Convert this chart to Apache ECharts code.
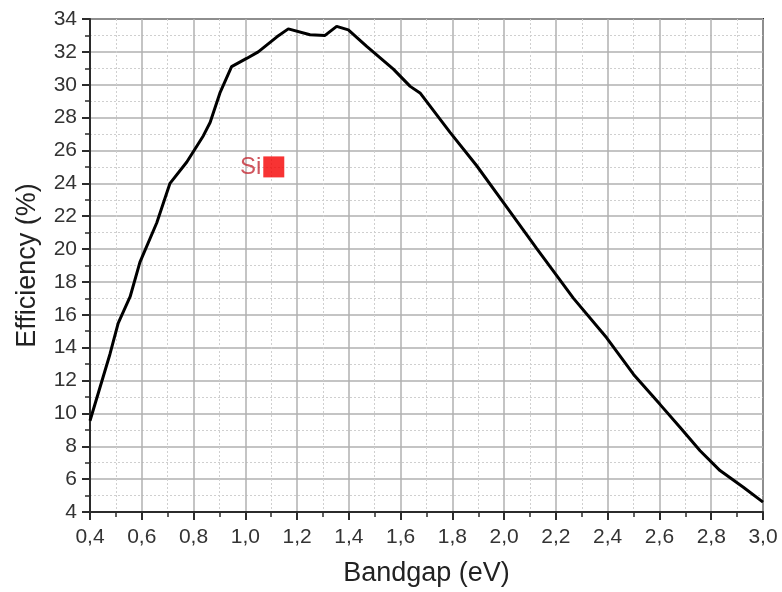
<!DOCTYPE html>
<html>
<head>
<meta charset="utf-8">
<script src="https://cdn.jsdelivr.net/npm/echarts@6/dist/echarts.min.js"></script>
<style>
  html, body { margin: 0; padding: 0; background: #fff; }
  #chart { width: 782px; height: 592px; }
</style>
</head>
<body>
<div id="chart"></div>
<script>
// Detailed-balance efficiency versus bandgap
const bandgap = [0.40, 0.477, 0.509, 0.555, 0.593, 0.658, 0.709, 0.774, 0.838, 0.864, 0.902, 0.947,
  1.005, 1.05, 1.121, 1.166, 1.25, 1.308, 1.353, 1.398, 1.469, 1.572, 1.637, 1.675, 1.791, 1.894,
  2.01, 2.126, 2.268, 2.396, 2.50, 2.602, 2.68, 2.757, 2.834, 2.924, 3.0];
const efficiency = [9.55, 13.6, 15.5, 17.1, 19.2, 21.6, 24.0, 25.3, 26.9, 27.7, 29.5, 31.1,
  31.6, 32.0, 32.9, 33.4, 33.04, 33.0, 33.55, 33.34, 32.33, 30.95, 29.9, 29.5, 27.1, 25.07,
  22.55, 20.03, 17.0, 14.6, 12.37, 10.55, 9.14, 7.73, 6.52, 5.51, 4.6];

// Silicon reference point
const siLabel = 'Si';
const siBandgap = 1.11;
const siEfficiency = 25.0;

const xTicks = { min: 0.4, max: 3.0, step: 0.2 };
const yTicks = { min: 4, max: 34, step: 2 };

const chart = echarts.init(document.getElementById('chart'));
const font = 'Liberation Sans, Arial, sans-serif';

const axisCommon = {
  axisLine: { show: true, lineStyle: { color: '#2b2b2b', width: 2 } },
  axisTick: { show: true, inside: false, length: 8, lineStyle: { color: '#2b2b2b', width: 2 } },
  minorTick: { show: true, splitNumber: 2, length: 5, lineStyle: { color: '#2b2b2b', width: 1.5 } },
  splitLine: { show: true, lineStyle: { color: '#b0b0b0', width: 1.5 } },
  minorSplitLine: { show: true, lineStyle: { color: '#cfcfcf', width: 1, type: [2, 2] } },
  axisLabel: { color: '#333', fontSize: 21, fontFamily: font },
  nameTextStyle: { color: '#222', fontSize: 27, fontFamily: font }
};

chart.setOption({
  animation: false,
  backgroundColor: '#fff',
  grid: {
    left: 90, right: 19, top: 19, bottom: 77,
    show: true, borderColor: '#2b2b2b', borderWidth: 2, backgroundColor: 'transparent'
  },
  xAxis: Object.assign({}, axisCommon, {
    type: 'value',
    min: xTicks.min, max: xTicks.max, interval: xTicks.step,
    name: 'Bandgap (eV)', nameLocation: 'middle', nameGap: 48,
    axisLabel: Object.assign({}, axisCommon.axisLabel, {
      margin: 15,
      formatter: v => v.toFixed(1).replace('.', ',')
    })
  }),
  yAxis: Object.assign({}, axisCommon, {
    type: 'value',
    min: yTicks.min, max: yTicks.max, interval: yTicks.step,
    name: 'Efficiency (%)', nameLocation: 'middle', nameGap: 49,
    axisLabel: Object.assign({}, axisCommon.axisLabel, { margin: 13 })
  }),
  series: [
    {
      type: 'line',
      data: bandgap.map((x, i) => [x, efficiency[i]]),
      showSymbol: false,
      smooth: false,
      lineStyle: { color: '#000', width: 3 },
      z: 3
    },
    {
      type: 'scatter',
      data: [[siBandgap, siEfficiency]],
      symbol: 'rect',
      symbolSize: 21,
      itemStyle: { color: '#f50000' },
      label: {
        show: true, position: 'left', distance: 2,
        formatter: siLabel, color: '#c42a35', fontSize: 24, fontFamily: font
      },
      z: 4
    }
  ]
});
</script>
</body>
</html>
